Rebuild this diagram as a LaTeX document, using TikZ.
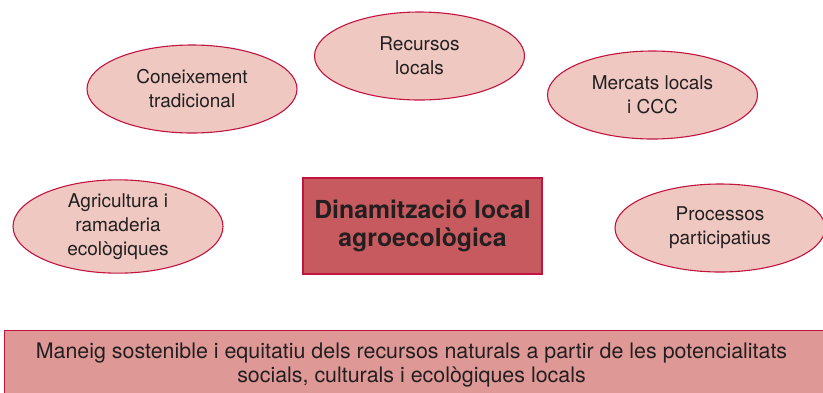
\documentclass[tikz,border=0pt]{standalone}
\usepackage{fontspec}
\setmainfont{TeX Gyre Heros}
\usepackage{xcolor}
\usetikzlibrary{shapes.geometric}
\definecolor{Ink}{HTML}{231F20}
\definecolor{Rim}{HTML}{C2143F}
\definecolor{Petal}{HTML}{EEC8C1}
\definecolor{Core}{HTML}{C75A5E}
\definecolor{Base}{HTML}{DE9896}
\tikzset{
  factor/.style={ellipse,draw=Rim,fill=Petal,line width=1.1pt,minimum width=210pt,minimum height=88pt,inner sep=0pt,align=center,text=Ink,font=\fontsize{19}{24}\selectfont},
  core/.style={rectangle,draw=Rim,fill=Core,line width=1.1pt,minimum width=239pt,minimum height=96pt,inner sep=0pt,align=center,text=Ink,font=\fontsize{24.8}{28}\selectfont\bfseries},
  base/.style={rectangle,draw=Rim,fill=Base,line width=1.1pt,anchor=north west,minimum width=830pt,minimum height=70pt,inner sep=0pt},
  basetext/.style={align=center,text=Ink,font=\fontsize{21.4}{24}\selectfont}
}

\begin{document}
\begin{tikzpicture}[x=1pt,y=-1pt]
  \clip (0,0) rectangle (823,392);
  \node[factor] (trad) at (192,89) {Coneixement\\tradicional};
  \node[factor] (recs) at (419.5,56) {Recursos\\locals};
  \node[factor] (merc) at (652.5,95) {Mercats locals\\i CCC};
  \node[factor] (agri) at (118,226.5) {Agricultura i\\ramaderia\\ecològiques};
  \node[factor] (proc) at (720,228) {Processos\\participatius};
  \node[core] (dina) at (422.5,226) {Dinamització local\\agroecològica};
  \node[base] (mane) at (4,330) {};
  \node[basetext] (manet) at (411.5,365) {Maneig sostenible i equitatiu dels recursos naturals a partir de les potencialitats\\socials, culturals i ecològiques locals};
\end{tikzpicture}
\end{document}
